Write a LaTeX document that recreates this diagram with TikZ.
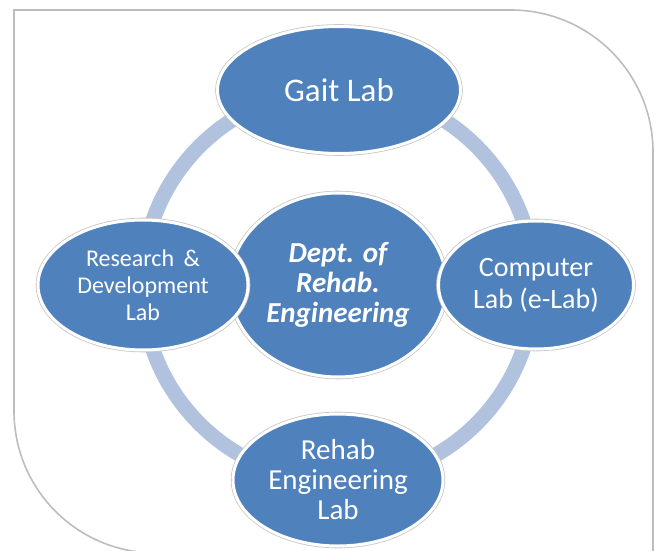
\documentclass[tikz,border=0pt]{standalone}
\usepackage{fontspec}
\setmainfont{Carlito}
\usetikzlibrary{shapes.geometric}
\definecolor{labblue}{HTML}{4F81BD}
\definecolor{ringblue}{HTML}{B0C2DE}
\definecolor{framegray}{HTML}{BDBDBD}

\begin{document}
\begin{tikzpicture}[x=1pt,y=-1pt,
    lab/.style={ellipse, fill=labblue, draw=white, line width=3pt, text=white,
      align=center, inner sep=0pt, preaction={draw=black!22, line width=4.6pt}},
    ring/.style={draw=ringblue, line width=15pt},
    frameline/.style={draw=framegray, line width=1.6pt}]
    \useasboundingbox (0,0) rectangle (656,551);
    \draw[frameline] (653,600) -- (653,152) arc (0:-90:142) -- (14,10) -- (14,411)
      arc (180:90:142) -- (700,553);
    \coordinate (hub) at (338,285);
    \draw[ring] (hub) circle (196);
    \node[lab, minimum width=243pt, minimum height=127pt,
      font=\fontsize{33}{36}\selectfont] (gait) at (339,90) {Gait Lab};
    \node[lab, minimum width=210pt, minimum height=132pt,
      font=\fontsize{29}{30}\selectfont] (rehablab) at (338,480) {Rehab\\Engineering\\Lab};
    \node[lab, minimum width=217pt, minimum height=184pt,
      font=\fontsize{29}{30}\selectfont\bfseries\itshape] (dept) at (hub) {Dept. of\\Rehab.\\Engineering};
    \node[lab, minimum width=210pt, minimum height=130pt,
      font=\fontsize{24}{27}\selectfont] (rnd) at (143,285) {Research \,\&\\Development\\Lab};
    \node[lab, minimum width=195pt, minimum height=128pt,
      font=\fontsize{28}{32}\selectfont] (elab) at (536,285) {Computer\\Lab (e-Lab)};
\end{tikzpicture}
\end{document}
